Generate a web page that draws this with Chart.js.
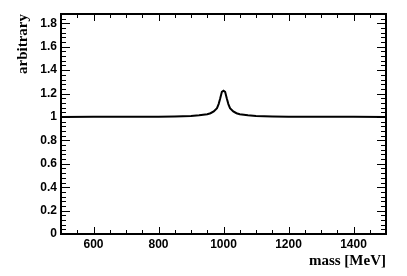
<!DOCTYPE html>
<html>
<head>
<meta charset="utf-8">
<script src="https://cdn.jsdelivr.net/npm/chart.js@4.4.0/dist/chart.umd.min.js"></script>
<style>
html,body{margin:0;padding:0;background:#fff}
#wrap{width:407px;height:276px}
</style>
</head>
<body>
<div id="wrap"><canvas id="c" width="407" height="276"></canvas></div>
<script>
// values
const mass=[500,600,700,800,850,900,925,950,960,970,980,985,990,995,1000,1005,1010,1015,1020,1030,1040,1050,1075,1100,1150,1200,1300,1400,1500]
const intensity=[1.0,1.001,1.002,1.003,1.005,1.009,1.014,1.024,1.032,1.048,1.075,1.11,1.16,1.215,1.224,1.215,1.16,1.11,1.075,1.048,1.032,1.024,1.014,1.009,1.005,1.003,1.002,1.001,1.0]
const xTicks=[600,800,1000,1200,1400]
const yTicks=[0,0.2,0.4,0.6,0.8,1,1.2,1.4,1.6,1.8]
const xMin=500, xMax=1500, yMin=0, yMax=1.88

const points=mass.map((m,i)=>({x:m,y:intensity[i]}))

// ROOT style frame: box + inward ticks on all 4 sides
const frameTicks={
  id:'frameTicks',
  afterDraw(chart){
    const ctx=chart.ctx
    const a=chart.chartArea
    const sx=chart.scales.x, sy=chart.scales.y
    ctx.save()
    ctx.strokeStyle='#000'
    ctx.lineWidth=1
    ctx.beginPath()
    for (let v=xMin;v<=xMax+0.1;v+=50){
      const px=Math.round(sx.getPixelForValue(v))+0.5
      const len=(v%200==0)?7:4
      ctx.moveTo(px,a.bottom);ctx.lineTo(px,a.bottom-len)
      ctx.moveTo(px,a.top);ctx.lineTo(px,a.top+len)
    }
    for (let k=0;k*0.04<=yMax+0.001;k++){
      const v=k*0.04
      const py=Math.round(sy.getPixelForValue(v))+0.5
      const len=(k%5==0)?9:5
      ctx.moveTo(a.left,py);ctx.lineTo(a.left+len,py)
      ctx.moveTo(a.right,py);ctx.lineTo(a.right-len,py)
    }
    ctx.stroke()
    ctx.lineWidth=2
    ctx.strokeRect(a.left,a.top,a.right-a.left,a.bottom-a.top)
    ctx.restore()
  }
}

new Chart(document.getElementById('c'),{
  type:'line',
  data:{datasets:[{
    data:points,
    borderColor:'#000',
    borderWidth:2,
    pointRadius:0,
    tension:0,
    fill:false
  }]},
  options:{
    responsive:false,
    animation:false,
    events:[],
    layout:{padding:{top:14,right:21,left:0,bottom:0}},
    plugins:{legend:{display:false},tooltip:{enabled:false}},
    scales:{
      x:{
        type:'linear',min:xMin,max:xMax,
        afterBuildTicks:s=>{s.ticks=xTicks.map(v=>({value:v}))},
        afterFit:s=>{s.height=42},
        grid:{display:false,drawTicks:false},
        border:{display:false},
        ticks:{color:'#000',padding:3,maxRotation:0,autoSkip:false,
          font:{family:'"Liberation Sans Narrow","Liberation Sans",Arial',size:12,weight:'bold'},
          callback:v=>String(v)},
        title:{display:true,text:'mass [MeV]',align:'end',color:'#000',
          padding:{top:0,bottom:6},
          font:{family:'"Liberation Serif","Times New Roman",serif',size:15,weight:'bold'}}
      },
      y:{
        type:'linear',min:yMin,max:yMax,
        afterBuildTicks:s=>{s.ticks=yTicks.map(v=>({value:v}))},
        afterFit:s=>{s.width=61},
        grid:{display:false,drawTicks:false},
        border:{display:false},
        ticks:{color:'#000',padding:4,autoSkip:false,
          font:{family:'"Liberation Sans Narrow","Liberation Sans",Arial',size:12,weight:'bold'},
          callback:v=>String(v)},
        title:{display:true,text:'arbitrary',align:'end',color:'#000',
          padding:{top:14,bottom:0},
          font:{family:'"Liberation Serif","Times New Roman",serif',size:15,weight:'bold'}}
      }
    }
  },
  plugins:[frameTicks]
})
</script>
</body>
</html>
